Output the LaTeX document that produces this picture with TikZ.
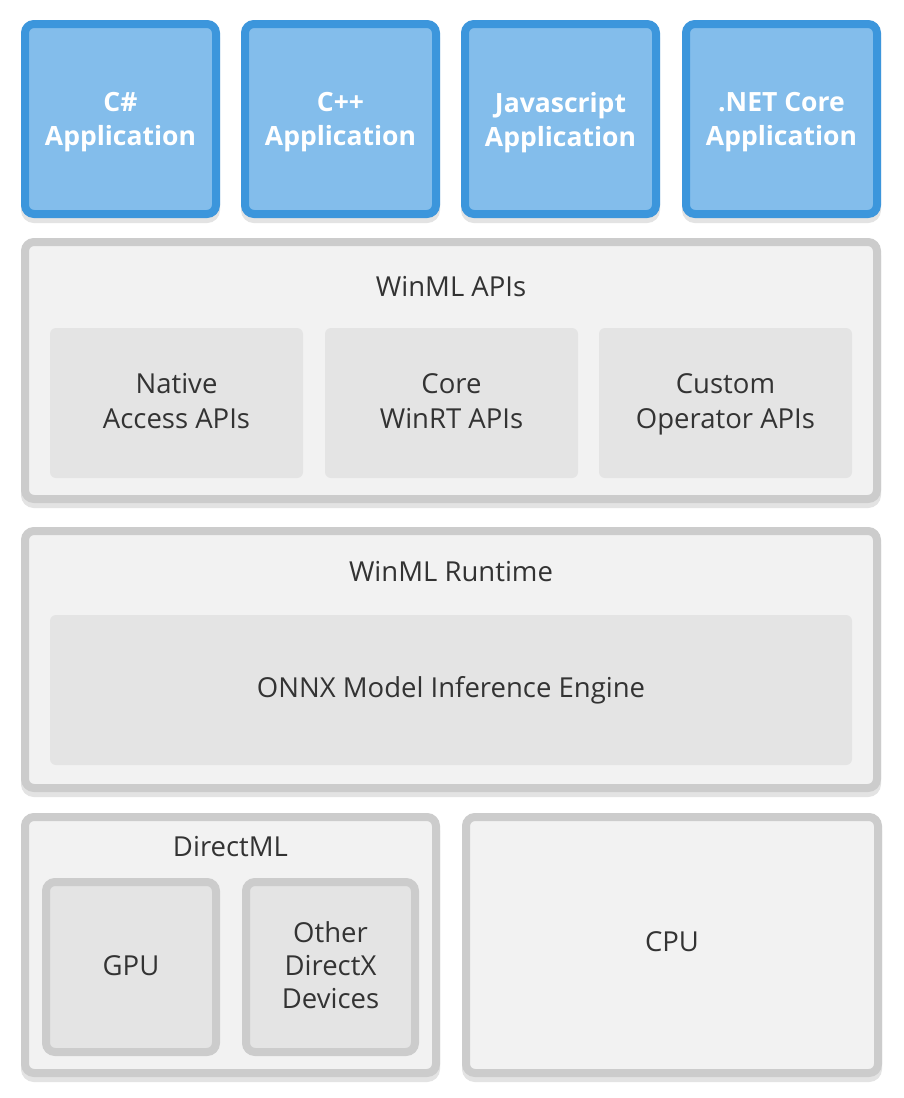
\documentclass[tikz,border=0pt]{standalone}
\usepackage{fontspec}
\setmainfont{Open Sans}
\definecolor{appborder}{HTML}{3C96DC}
\definecolor{appfill}{HTML}{83BDEB}
\definecolor{grayborder}{HTML}{CCCCCC}
\definecolor{layerfill}{HTML}{F2F2F2}
\definecolor{subfill}{HTML}{E4E4E4}
\definecolor{shadowcol}{HTML}{E3E3E3}
\definecolor{textcol}{HTML}{333333}
\tikzset{
  boxshadow/.style={preaction={draw=shadowcol, fill=shadowcol, transform canvas={yshift=-5pt}}},
  appbox/.style={boxshadow, draw=appborder, fill=appfill, line width=8pt, rounded corners=9pt,
    inner sep=0pt, minimum width=191pt, minimum height=190pt},
  apptext/.style={text=white, align=center, inner sep=0pt, font=\fontsize{26.5}{34}\selectfont\bfseries,
    execute at begin node=\strut, execute at end node=\strut},
  layerbox/.style={boxshadow, draw=grayborder, fill=layerfill, line width=8pt, rounded corners=9pt, inner sep=0pt},
  subbox/.style={fill=subfill, rounded corners=6pt, inner sep=0pt, minimum width=253pt, minimum height=150pt},
  subtext/.style={align=center, text=textcol, inner sep=0pt,
    font=\fontsize{27.5}{35}\selectfont, execute at begin node=\strut, execute at end node=\strut},
  devbox/.style={draw=grayborder, fill=subfill, line width=8pt, rounded corners=9pt, inner sep=0pt,
    minimum height=170pt},
  devtext/.style={align=center, text=textcol, inner sep=0pt, font=\fontsize{27.5}{33}\selectfont,
    execute at begin node=\strut, execute at end node=\strut},
  title/.style={text=textcol, font=\fontsize{27.5}{34}\selectfont, inner sep=0pt, anchor=center},
}
\begin{document}
\begin{tikzpicture}[x=1pt,y=-1pt]
\useasboundingbox[fill=white] (0,0) rectangle (903,1098);
% applications
\node[appbox] (csharp) at (120.5,119) {};
\node[appbox] (cpp) at (340.5,119) {};
\node[appbox] (js) at (560.5,119) {};
\node[appbox] (net) at (781.5,119) {};
\node[apptext] (csharptext) at ([yshift=-5.5pt]csharp.center) {C\#\\Application};
\node[apptext] (cpptext) at ([yshift=-5.5pt]cpp.center) {C++\\Application};
\node[apptext] (jstext) at ([yshift=-5.5pt]js.center) {Javascript\\Application};
\node[apptext] (nettext) at ([yshift=-5.5pt]net.center) {.NET Core\\Application};
% WinML APIs
\node[layerbox, minimum width=852pt, minimum height=257pt] (apis) at (451,370.5) {};
\node[title] (apistitle) at (451,287) {WinML APIs};
\node[subbox] (native) at (176.5,403) {};
\node[subbox] (core) at (451.5,403) {};
\node[subbox] (custom) at (725.5,403) {};
\node[subtext] (nativetext) at ([yshift=-3pt]native.center) {Native\\Access APIs};
\node[subtext] (coretext) at ([yshift=-3pt]core.center) {Core\\WinRT APIs};
\node[subtext] (customtext) at ([yshift=-3pt]custom.center) {Custom\\Operator APIs};
% WinML Runtime
\node[layerbox, minimum width=852pt, minimum height=257pt] (runtime) at (451,659.5) {};
\node[title] (runtimetitle) at (451,572) {WinML Runtime};
\node[subbox, minimum width=802pt, text=textcol, font=\fontsize{27.5}{35}\selectfont] (onnx) at (451,690) {ONNX Model Inference Engine};
% DirectML
\node[layerbox, minimum width=411pt, minimum height=256pt] (directml) at (230.5,945) {};
\node[title] (directmltitle) at (230.5,847) {DirectML};
\node[devbox, minimum width=170pt] (gpu) at (131,967) {};
\node[devbox, minimum width=169pt] (other) at (330.5,967) {};
\node[devtext] (gputext) at ([yshift=-1.5pt]gpu.center) {GPU};
\node[devtext] (othertext) at ([yshift=-2.5pt]other.center) {Other\\DirectX\\Devices};
% CPU
\node[layerbox, minimum width=412pt, minimum height=256pt] (cpu) at (672,945) {};
\node[title] (cputitle) at (672,942) {CPU};
\end{tikzpicture}
\end{document}
